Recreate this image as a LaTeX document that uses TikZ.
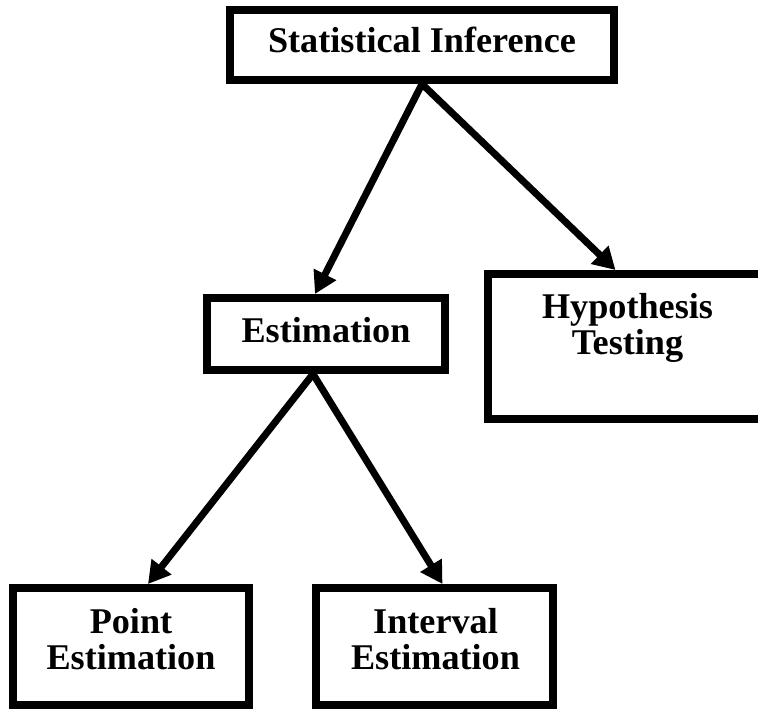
\documentclass[tikz,border=0pt]{standalone}
\usepackage{fontspec}
\setmainfont{Liberation Serif}
\usetikzlibrary{arrows.meta}
\begin{document}
\begin{tikzpicture}[x=1pt,y=1pt,
  box/.style={draw=black, line width=8pt, fill=white, inner sep=0pt},
  lbl/.style={font=\bfseries\fontsize{36.2}{36.5}\selectfont, inner sep=0pt, align=center},
  arr/.style={draw=black, line width=7pt, -{Triangle[length=22pt,width=24pt]}}]
\useasboundingbox (0,0) rectangle (758,709);
% boxes
\node[box, minimum width=384pt, minimum height=70pt] (stat) at (422,664) {};
\node[box, minimum width=238pt, minimum height=72pt] (est) at (326,375) {};
\node[box, minimum width=279pt, minimum height=145pt] (hyp) at (627.5,362.5) {};
\node[box, minimum width=236pt, minimum height=117pt] (point) at (131,62.5) {};
\node[box, minimum width=237pt, minimum height=117pt] (interval) at (434.5,62.5) {};
% texts
\node[lbl, anchor=base] (tstat) at (422,656) {Statistical Inference};
\node[lbl, anchor=base] (test) at (326,366) {Estimation};
\node[lbl] (thyp) at (627.5,381) {Hypothesis\\Testing};
\node[lbl] (tpoint) at (131,70) {Point\\Estimation};
\node[lbl] (tinterval) at (435.5,70) {Interval\\Estimation};
% connectors
\draw[arr] (stat.south) -- ([xshift=-11pt]est.north);
\draw[arr] (stat.south) -- ([xshift=-12pt]hyp.north);
\draw[arr] ([xshift=-13pt]est.south) -- ([xshift=17pt]point.north);
\draw[arr] ([xshift=-13pt]est.south) -- ([xshift=8pt]interval.north);
\end{tikzpicture}
\end{document}
